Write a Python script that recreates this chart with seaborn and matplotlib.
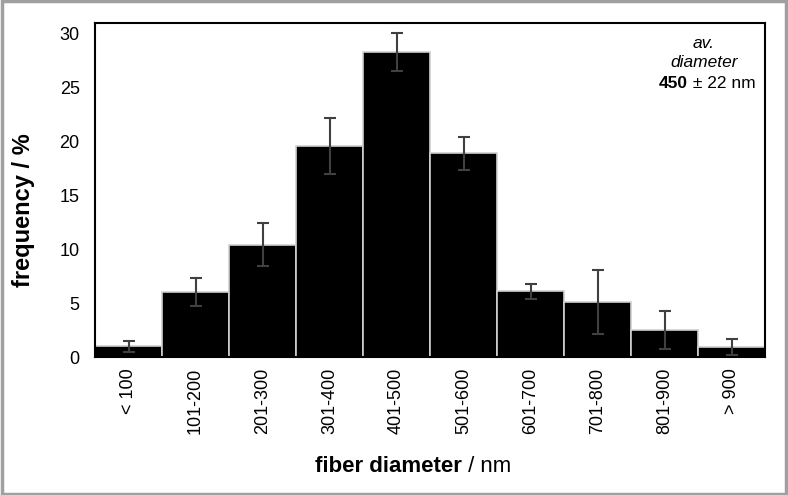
import matplotlib
matplotlib.use("Agg")
import matplotlib.pyplot as plt
import seaborn as sns
import pandas as pd
from matplotlib.patches import Rectangle

categories = ["< 100", "101-200", "201-300", "301-400", "401-500",
              "501-600", "601-700", "701-800", "801-900", "> 900"]
frequency = [1.0, 6.0, 10.4, 19.6, 28.3, 18.9, 6.1, 5.1, 2.5, 0.95]
errors = [0.5, 1.3, 2.0, 2.6, 1.8, 1.5, 0.7, 3.0, 1.8, 0.75]
yticks = [0, 5, 10, 15, 20, 25, 30]

df = pd.DataFrame({"range": categories, "freq": frequency})

sns.set_style("white")
plt.rcParams["font.family"] = ["Liberation Sans", "DejaVu Sans"]
plt.rcParams["text.color"] = "black"
plt.rcParams["xtick.color"] = "black"
plt.rcParams["ytick.color"] = "black"

fig = plt.figure(figsize=(7.88, 4.95), dpi=100)
ax = fig.add_axes([95 / 788, 1 - 357 / 495, 670 / 788, 334 / 495])

sns.barplot(data=df, x="range", y="freq", color="black", width=1.0,
            edgecolor="#d0d0d0", linewidth=1.2, ax=ax, saturation=1)
ax.errorbar(range(len(categories)), frequency, yerr=errors, fmt="none",
            ecolor="#404040", elinewidth=1.5, capsize=4, capthick=1.5, zorder=5)

ax.set_xlim(-0.5, len(categories) - 0.5)
ax.set_ylim(0, 31)
ax.set_yticks(yticks)
ax.set_yticklabels([str(t) for t in yticks], fontsize=13)
ax.set_xticks(range(len(categories)))
ax.set_xticklabels(categories, rotation=90, fontsize=13)
ax.tick_params(axis="y", length=0, pad=11, labelcolor="black")
ax.tick_params(axis="x", length=0, pad=8, labelcolor="black")
ax.set_xlabel("")
ax.set_ylabel("")
for s in ax.spines.values():
    s.set_visible(True)
    s.set_color("black")
    s.set_linewidth(1.5)

# axis labels
fig.text(24 / 788, 1 - 210 / 495, "frequency / %", rotation=90, fontsize=17,
         fontweight="bold", ha="center", va="center", color="black")
fig.text(462 / 788, 1 - 466 / 495, "fiber diameter", fontsize=16,
         fontweight="bold", ha="right", va="center", color="black")
fig.text(462 / 788, 1 - 466 / 495, " / nm", fontsize=16, ha="left", va="center",
         color="black")

# annotation
fig.text(704 / 788, 1 - 43 / 495, "av.", fontsize=12.5, style="italic",
         ha="center", va="center", color="black")
fig.text(704 / 788, 1 - 63 / 495, "diameter", fontsize=12.5, style="italic",
         ha="center", va="center", color="black")
fig.text(688 / 788, 1 - 84 / 495, "450", fontsize=12.5, fontweight="bold",
         ha="right", va="center", color="black")
fig.text(688 / 788, 1 - 84 / 495, " \u00b1 22 nm", fontsize=12.5,
         ha="left", va="center", color="black")

# figure frame
fig.patches.append(Rectangle((0.002, 0.003), 0.996, 0.994, transform=fig.transFigure,
                             fill=False, edgecolor="#a0a0a0", linewidth=2.5))

fig.savefig("out.png", dpi=100)
